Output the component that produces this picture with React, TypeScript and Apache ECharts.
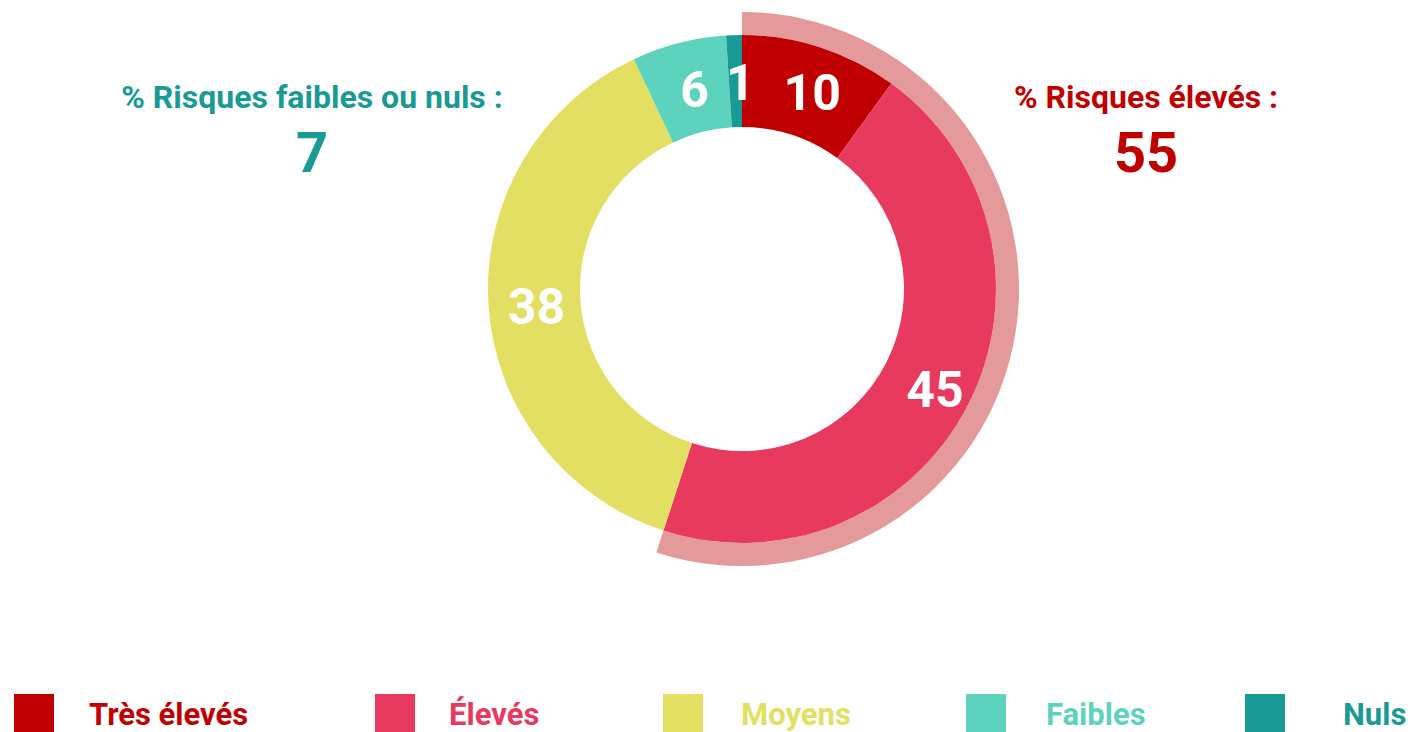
import React, { useEffect, useRef } from "react";
import * as echarts from "echarts";

const categories = ["Très élevés", "Élevés", "Moyens", "Faibles", "Nuls"];
const values = [10, 45, 38, 6, 1];
const colors = ["#C00000", "#E8395F", "#E3DF62", "#5DD3BE", "#1A9A94"];
const highLabel = "% Risques élevés :";
const lowLabel = "% Risques faibles ou nuls :";
const legendLefts = [14, 375, 663, 966, 1245];
const legendTextGaps = [35, 34, 38, 40, 58];

const FONT = "Roboto, 'Noto Sans', sans-serif";

export default function App() {
  const ref = useRef<HTMLDivElement>(null);
  useEffect(() => {
    if (!ref.current) return;
    const chart = echarts.init(ref.current, undefined, { renderer: "svg" });
    const high = values[0] + values[1];
    const low = values[3] + values[4];
    const total = values.reduce((a, b) => a + b, 0);
    const cx = 742;
    const cy = 289;
    const option: any = {
      animation: false,
      backgroundColor: "#ffffff",
      textStyle: { fontFamily: FONT },
      legend: categories.map((c, i) => ({
        left: legendLefts[i],
        top: 694,
        padding: 0,
        orient: "horizontal",
        itemWidth: 40,
        itemHeight: 40,
        itemGap: 0,
        icon: "rect",
        selectedMode: false,
        data: [
          {
            name: c,
            itemStyle: { color: colors[i] },
            textStyle: {
              color: colors[i],
              fontSize: 31,
              lineHeight: 31,
              fontWeight: "bold",
              fontFamily: FONT,
              padding: [0, 0, 0, legendTextGaps[i] - 5],
            },
          },
        ],
      })),
      series: [
        {
          type: "pie",
          center: [cx, cy],
          radius: [254, 277],
          startAngle: 90,
          clockwise: true,
          silent: true,
          label: { show: false },
          labelLine: { show: false },
          data: [
            { name: "__high", value: high, itemStyle: { color: "#E49A9A" } },
            { name: "__rest", value: total - high, itemStyle: { color: "rgba(0,0,0,0)" } },
          ],
        },
        {
          type: "pie",
          center: [cx, cy],
          radius: [162, 254],
          startAngle: 90,
          clockwise: true,
          avoidLabelOverlap: false,
          label: {
            show: true,
            position: "inside",
            formatter: "{c}",
            color: "#ffffff",
            fontSize: 50,
            fontWeight: "bold",
            fontFamily: FONT,
            offset: [5, 5],
          },
          labelLine: { show: false },
          data: categories.map((c, i) => ({
            name: c,
            value: values[i],
            itemStyle: { color: colors[i] },
          })),
        },
      ],
      graphic: [
        {
          type: "text",
          x: 312,
          y: 97,
          style: {
            text: lowLabel,
            fill: colors[4],
            font: `bold 32px ${FONT}`,
            align: "center",
            verticalAlign: "middle",
          },
        },
        {
          type: "text",
          x: 312,
          y: 153,
          style: {
            text: String(low),
            fill: colors[4],
            font: `bold 56px ${FONT}`,
            align: "center",
            verticalAlign: "middle",
          },
        },
        {
          type: "text",
          x: 1146,
          y: 97,
          style: {
            text: highLabel,
            fill: colors[0],
            font: `bold 32px ${FONT}`,
            align: "center",
            verticalAlign: "middle",
          },
        },
        {
          type: "text",
          x: 1146,
          y: 153,
          style: {
            text: String(high),
            fill: colors[0],
            font: `bold 56px ${FONT}`,
            align: "center",
            verticalAlign: "middle",
          },
        },
      ],
    };
    chart.setOption(option);
    return () => chart.dispose();
  }, []);
  return (
    <div
      ref={ref}
      style={{ position: "fixed", left: 0, top: 0, width: 1412, height: 732, background: "#fff" }}
    />
  );
}
